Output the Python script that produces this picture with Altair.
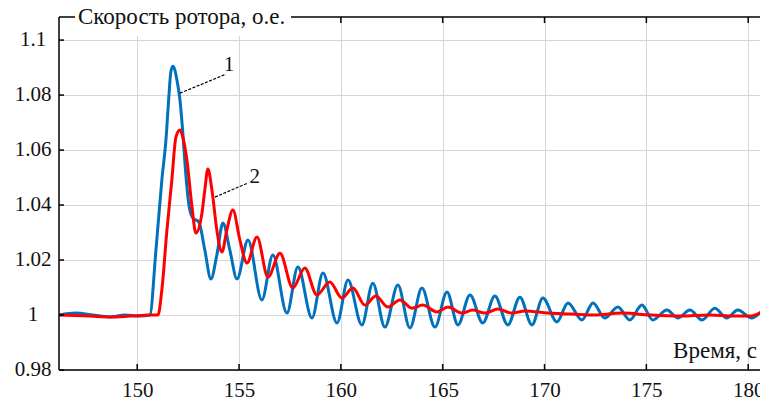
import altair as alt
import pandas as pd

# ---- data -------------------------------------------------------------
blue_t = [146.16, 146.99, 147.82, 148.66, 149.40, 150.13, 150.62, 150.92, 151.21, 151.41,
          151.56, 151.65, 151.75, 151.85, 151.95, 152.10, 152.24, 152.39, 152.54, 152.73,
          153.03, 153.32, 153.62, 153.91, 154.21, 154.55, 154.90, 155.44, 156.12, 156.66,
          157.35, 157.89, 158.58, 159.12, 159.81, 160.35, 161.03, 161.57, 162.16, 162.80,
          163.39, 163.98, 164.62, 165.21, 165.75, 166.34, 166.97, 167.56, 168.20, 168.79,
          169.38, 169.92, 170.61, 171.15, 171.84, 172.38, 172.96, 173.60, 174.19, 174.78,
          175.32, 176.01, 176.55, 177.14, 177.73, 178.36, 178.95, 179.49, 180.18, 180.67]
blue_v = [1.000, 1.0007, 1.000, 0.9993, 1.000, 0.9996, 1.000, 1.0236, 1.0491, 1.0636,
          1.0800, 1.0884, 1.0905, 1.0891, 1.0855, 1.0782, 1.0662, 1.0509, 1.0400, 1.0353,
          1.0338, 1.0236, 1.0131, 1.0218, 1.0335, 1.0236, 1.0131, 1.0273, 1.0055, 1.0218,
          1.0007, 1.0175, 0.9989, 1.0153, 0.9971, 1.0127, 0.9964, 1.0116, 0.9956, 1.0109,
          0.9953, 1.0098, 0.9956, 1.0084, 0.9964, 1.0073, 0.9971, 1.0069, 0.9964, 1.0065,
          0.9964, 1.0062, 0.9975, 1.0044, 0.9982, 1.0044, 0.9989, 1.0029, 0.9982, 1.0036,
          0.9982, 1.0018, 0.9989, 1.0018, 0.9982, 1.0025, 0.9989, 1.0018, 0.9989, 1.0015]

red_t = [146.16, 147.68, 148.66, 149.64, 150.62, 151.02, 151.21, 151.46, 151.70, 151.90,
         152.10, 152.24, 152.44, 152.69, 152.88, 153.18, 153.32, 153.47, 153.67, 153.91,
         154.16, 154.40, 154.70, 155.04, 155.39, 155.88, 156.42, 157.01, 157.64, 158.23,
         158.82, 159.46, 160.05, 160.59, 161.18, 161.72, 162.31, 162.90, 163.49, 164.03,
         164.71, 165.26, 165.94, 166.48, 167.07, 167.71, 168.40, 169.04, 170.17, 171.34,
         172.47, 173.80, 175.17, 176.64, 178.11, 179.35, 180.09, 180.67]
red_v = [1.000, 0.9996, 0.9993, 0.9996, 1.000, 1.000, 1.0091, 1.0309, 1.0491, 1.0647,
         1.0673, 1.0647, 1.0564, 1.0393, 1.0298, 1.0371, 1.0455, 1.0531, 1.0455, 1.0309,
         1.0229, 1.0309, 1.0382, 1.0273, 1.0189, 1.0284, 1.0138, 1.0225, 1.0098, 1.0171,
         1.0073, 1.0120, 1.0062, 1.0098, 1.0036, 1.0069, 1.0029, 1.0055, 1.0025, 1.0036,
         1.0011, 1.0029, 1.0007, 1.0018, 1.0007, 1.0022, 1.0007, 1.0015, 1.0007, 1.0004,
         1.000, 1.0007, 1.000, 0.9996, 1.000, 0.9996, 0.9996, 1.0011]

x_ticks = [150, 155, 160, 165, 170, 175, 180]
y_ticks = [0.98, 1.0, 1.02, 1.04, 1.06, 1.08, 1.1]
y_tick_labels = ["0.98", "1", "1.02", "1.04", "1.06", "1.08", "1.1"]

title_text = "Скорость ротора, о.е."
x_title = "Время, с"

curve_labels = ["1", "2"]
label_t = [154.51, 155.77]
label_v = [1.0909, 1.0502]
leader_t1 = [152.10, 153.82]
leader_v1 = [1.0807, 1.0429]
leader_t2 = [154.36, 155.43]
leader_v2 = [1.0876, 1.0480]

# ---- layout / style -----------------------------------------------------
W, H = 701, 353
X_DOMAIN = [146.16, 180.58]
Y_DOMAIN = [0.98, 1.1084]
FONT = "Liberation Serif, Times New Roman, DejaVu Serif, serif"
BLUE = "#0072BD"
RED = "#FF0000"

blue_df = pd.DataFrame({"t": blue_t, "v": blue_v})
red_df = pd.DataFrame({"t": red_t, "v": red_v})
xt_df = pd.DataFrame({"t": x_ticks})
yt_df = pd.DataFrame({"v": y_ticks, "lab": y_tick_labels})
lab_df = pd.DataFrame({"t": label_t, "v": label_v, "txt": curve_labels})
lead_df = pd.DataFrame({"t": leader_t1, "v": leader_v1, "t2": leader_t2, "v2": leader_v2})
one = pd.DataFrame({"a": [0]})

xs = alt.Scale(domain=X_DOMAIN, nice=False, zero=False)
ys = alt.Scale(domain=Y_DOMAIN, nice=False, zero=False)

x_axis = alt.Axis(values=x_ticks, grid=True, domain=False, ticks=False, title=None,
                  format="d", labelFont=FONT, labelFontSize=21, labelColor="#111",
                  labelPadding=9, gridColor="#d6d6d6", gridWidth=1)
y_axis = alt.Axis(values=y_ticks, grid=True, domain=False, ticks=False, title=None,
                  labels=False, gridColor="#d6d6d6", gridWidth=1)


def X(field):
    return alt.X(field, type="quantitative", scale=xs, axis=x_axis)


def Y(field):
    return alt.Y(field, type="quantitative", scale=ys, axis=y_axis)


blue_line = alt.Chart(blue_df).mark_line(color=BLUE, strokeWidth=3, interpolate="monotone",
                                         clip=True).encode(x=X("t"), y=Y("v"))
red_line = alt.Chart(red_df).mark_line(color=RED, strokeWidth=3, interpolate="monotone",
                                       clip=True).encode(x=X("t"), y=Y("v"))

# frame
left_rule = alt.Chart(one).mark_rule(color="black", strokeWidth=1.5).encode(
    x=alt.value(0), y=alt.value(0), y2=alt.value(H))
bottom_rule = alt.Chart(one).mark_rule(color="black", strokeWidth=1.5).encode(
    x=alt.value(0), x2=alt.value(W), y=alt.value(H))
top_rule = alt.Chart(one).mark_rule(color="black", strokeWidth=1.5).encode(
    x=alt.value(0), x2=alt.value(W), y=alt.value(0))

top_ticks = alt.Chart(xt_df).mark_rule(color="black", strokeWidth=1.5).encode(
    x=X("t"), y=alt.value(0), y2=alt.value(6))
bottom_ticks = alt.Chart(xt_df).mark_rule(color="black", strokeWidth=1.5).encode(
    x=X("t"), y=alt.value(H - 6), y2=alt.value(H))
left_ticks = alt.Chart(yt_df).mark_rule(color="black", strokeWidth=1.5).encode(
    y=Y("v"), x=alt.value(0), x2=alt.value(5))

# y tick labels, centred in the left margin as in the reference
y_labels = alt.Chart(yt_df).mark_text(font=FONT, fontSize=21, color="#111", align="center",
                                      baseline="middle").encode(
    y=Y("v"), x=alt.value(-26), text="lab:N")

# title box interrupting the top frame
title_box = alt.Chart(one).mark_rect(color="white").encode(
    x=alt.value(16), x2=alt.value(232), y=alt.value(-12), y2=alt.value(19))
title_mark = alt.Chart(one).mark_text(text=title_text, font=FONT, fontSize=23, align="left",
                                      baseline="middle", color="#111").encode(
    x=alt.value(19), y=alt.value(0))

xtitle_mark = alt.Chart(one).mark_text(text=x_title, font=FONT, fontSize=23, align="right",
                                       baseline="middle", color="#111").encode(
    x=alt.value(698), y=alt.value(334))

leaders = alt.Chart(lead_df).mark_rule(color="black", strokeWidth=1.2,
                                       strokeDash=[3, 1.5]).encode(
    x=X("t"), y=Y("v"), x2="t2:Q", y2="v2:Q")
labels = alt.Chart(lab_df).mark_text(font=FONT, fontSize=21, color="#111",
                                     baseline="middle", align="center").encode(
    x=X("t"), y=Y("v"), text="txt:N")

chart = alt.layer(
    blue_line, red_line, left_rule, bottom_rule, top_rule, top_ticks, bottom_ticks,
    left_ticks, y_labels, title_box, title_mark, xtitle_mark, leaders, labels
).properties(
    width=W, height=H,
    padding={"left": 59, "top": 17, "right": 0, "bottom": 34},
    autosize=alt.AutoSizeParams(type="none"),
    background="white",
).configure_view(stroke=None)

chart.save("out.html", embed_options={"renderer": "svg", "actions": False})
